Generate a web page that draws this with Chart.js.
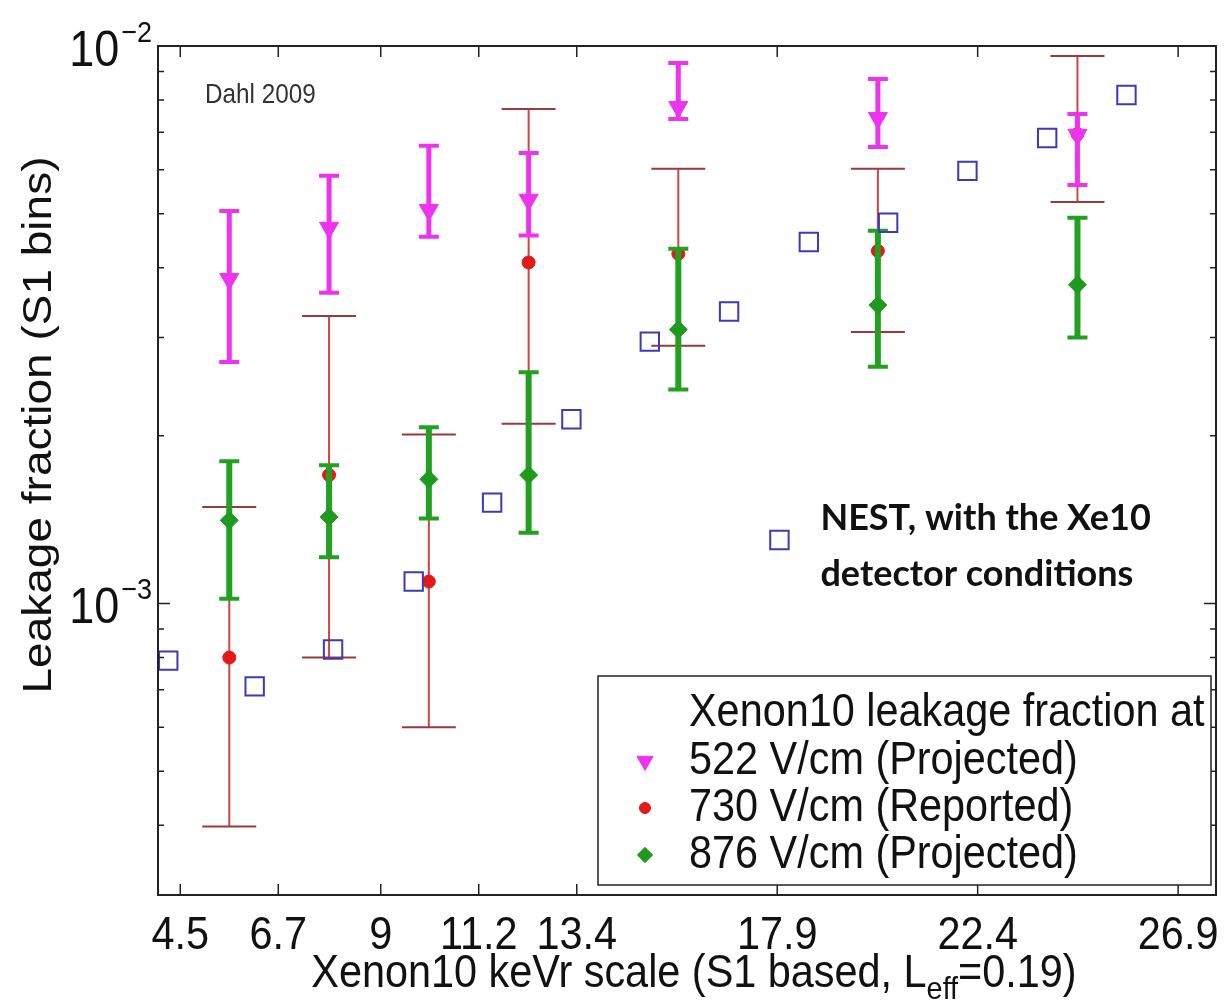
<!DOCTYPE html>
<html>
<head>
<meta charset="utf-8">
<script src="https://cdn.jsdelivr.net/npm/chart.js@4.4.1/dist/chart.umd.min.js"></script>
<style>
  html, body { margin: 0; padding: 0; background: #fff; }
  #wrap { width: 1231px; height: 1006px; position: relative; }
</style>
</head>
<body>
<div id="wrap"><canvas id="grafico"></canvas></div>
<script>
// posições (keVr) dos bins de S1
const binKevr = [5.6, 7.84, 10.08, 12.32, 15.68, 20.16, 24.64];

// 522 V/cm (Projected)
const proj522 = [3.82e-3, 4.72e-3, 5.08e-3, 5.30e-3, 7.77e-3, 7.43e-3, 6.93e-3];
const proj522Lo = [2.71e-3, 3.61e-3, 4.55e-3, 4.57e-3, 7.40e-3, 6.59e-3, 5.63e-3];
const proj522Hi = [5.06e-3, 5.85e-3, 6.62e-3, 6.43e-3, 9.32e-3, 8.73e-3, 7.55e-3];

// 730 V/cm (Reported)
const rep730 = [8.0e-4, 1.70e-3, 1.095e-3, 4.09e-3, 4.24e-3, 4.29e-3, 6.95e-3];
const rep730Lo = [3.98e-4, 8.0e-4, 6.0e-4, 2.10e-3, 2.90e-3, 3.07e-3, 5.25e-3];
const rep730Hi = [1.49e-3, 3.28e-3, 2.01e-3, 7.71e-3, 6.02e-3, 6.02e-3, 9.60e-3];

// 876 V/cm (Projected)
const proj876 = [1.41e-3, 1.43e-3, 1.67e-3, 1.70e-3, 3.10e-3, 3.43e-3, 3.73e-3];
const proj876Lo = [1.02e-3, 1.21e-3, 1.42e-3, 1.34e-3, 2.42e-3, 2.66e-3, 3.00e-3];
const proj876Hi = [1.80e-3, 1.77e-3, 2.07e-3, 2.60e-3, 4.33e-3, 4.66e-3, 4.92e-3];

// NEST
const nestKevr = [4.23, 6.17, 7.93, 9.74, 11.50, 13.28, 15.04, 16.82, 18.61, 20.39, 22.17, 23.96, 25.74];
const nestFrac = [7.9e-4, 7.1e-4, 8.27e-4, 1.095e-3, 1.517e-3, 2.14e-3, 2.95e-3, 3.34e-3, 4.45e-3, 4.82e-3, 5.97e-3, 6.84e-3, 8.17e-3];

// eixos
const xTicks = [4.5, 6.7, 9, 11.2, 13.4, 17.9, 22.4, 26.9];
const yTicks = [3e-4, 4e-4, 5e-4, 6e-4, 7e-4, 8e-4, 9e-4, 1e-3, 2e-3, 3e-3, 4e-3, 5e-3, 6e-3, 7e-3, 8e-3, 9e-3, 1e-2];
const yDecadas = [1e-3, 1e-2];

const legendaTitulo = 'Xenon10 leakage fraction at';
const legendaNomes = ['522 V/cm (Projected)', '730 V/cm (Reported)', '876 V/cm (Projected)'];

const FONTE = '"Liberation Sans", Arial, Helvetica, sans-serif';
const ESTREITO = 0.9; // o texto original é levemente comprimido na horizontal

function pontos(xs, ys) {
  return xs.map((v, i) => ({ x: v, y: ys[i] }));
}

// escreve texto comprimido na horizontal
function texto(ctx, str, x, y, tam, align, base) {
  ctx.save();
  ctx.font = tam + 'px ' + FONTE;
  ctx.textAlign = align || 'left';
  ctx.textBaseline = base || 'middle';
  ctx.translate(x, y);
  ctx.scale(ESTREITO, 1);
  ctx.fillText(str, 0, 0);
  ctx.restore();
}

function largura(ctx, str, tam) {
  ctx.save();
  ctx.font = tam + 'px ' + FONTE;
  const w = ctx.measureText(str).width * ESTREITO;
  ctx.restore();
  return w;
}

// barras de erro desenhadas antes dos marcadores de cada série
const barrasErro = {
  id: 'barrasErro',
  beforeDatasetDraw(chart, args) {
    const ds = chart.data.datasets[args.index];
    if (!ds.errLo) return;
    const { ctx, scales: { x, y } } = chart;
    ctx.save();
    ds.data.forEach((p, i) => {
      const px = x.getPixelForValue(p.x);
      const yLo = y.getPixelForValue(ds.errLo[i]);
      const yHi = y.getPixelForValue(ds.errHi[i]);
      ctx.strokeStyle = ds.errCor;
      ctx.lineWidth = ds.errLargura;
      ctx.beginPath();
      ctx.moveTo(px, yLo);
      ctx.lineTo(px, yHi);
      ctx.stroke();
      ctx.strokeStyle = ds.capCor || ds.errCor;
      ctx.lineWidth = ds.capLargura;
      ctx.beginPath();
      ctx.moveTo(px - ds.capMeio, yLo); ctx.lineTo(px + ds.capMeio, yLo);
      ctx.moveTo(px - ds.capMeio, yHi); ctx.lineTo(px + ds.capMeio, yHi);
      ctx.stroke();
    });
    ctx.restore();
  }
};

function marcador(ctx, ds, x, y, escala) {
  ctx.save();
  ctx.fillStyle = ds.pointBackgroundColor;
  ctx.strokeStyle = ds.pointBorderColor;
  ctx.lineWidth = ds.pointBorderWidth;
  Chart.helpers.drawPoint(ctx, {
    pointStyle: ds.pointStyle,
    radius: ds.pointRadius * (escala || 1),
    rotation: ds.pointRotation || 0,
    borderWidth: ds.pointBorderWidth
  }, x, y);
  ctx.restore();
}

// moldura, ticks para dentro, rótulos, títulos, legenda e anotações
const moldura = {
  id: 'moldura',
  afterDraw(chart) {
    const { ctx, chartArea: a, scales: { x, y } } = chart;
    const dss = chart.data.datasets;
    ctx.save();

    ctx.strokeStyle = '#222';
    ctx.lineWidth = 1.5;
    ctx.beginPath();
    xTicks.forEach(v => {
      const px = x.getPixelForValue(v);
      ctx.moveTo(px, a.bottom); ctx.lineTo(px, a.bottom - 11);
      ctx.moveTo(px, a.top); ctx.lineTo(px, a.top + 11);
    });
    yTicks.forEach(v => {
      const py = y.getPixelForValue(v);
      const len = yDecadas.includes(v) ? 12 : 6;
      ctx.moveTo(a.left, py); ctx.lineTo(a.left + len, py);
      ctx.moveTo(a.right, py); ctx.lineTo(a.right - len, py);
    });
    ctx.stroke();

    // rótulos do eixo x
    ctx.fillStyle = '#111';
    xTicks.forEach(v => texto(ctx, String(v), x.getPixelForValue(v), a.bottom + 41, 46, 'center'));

    // rótulos do eixo y: 10^-n
    yDecadas.forEach(v => {
      const py = y.getPixelForValue(v);
      const exp = '\u2212' + Math.round(-Math.log10(v));
      texto(ctx, exp, a.left - 6, py - 4, 30, 'right', 'alphabetic');
      const wExp = largura(ctx, exp, 30);
      texto(ctx, '10', a.left - 8 - wExp, py + 20, 50, 'right', 'alphabetic');
    });

    // título y (rotacionado: a compressão horizontal vira altura das letras)
    ctx.save();
    ctx.translate(40, 425);
    ctx.rotate(-Math.PI / 2);
    ctx.scale(1, ESTREITO);
    ctx.font = '46px ' + FONTE;
    ctx.textAlign = 'center';
    ctx.textBaseline = 'middle';
    ctx.fillText('Leakage fraction (S1 bins)', 0, 0);
    ctx.restore();

    // título x com subscrito
    const parte1 = 'Xenon10 keVr scale (S1 based, L';
    const sub = 'eff';
    const parte2 = '=0.19)';
    const w1 = largura(ctx, parte1, 46);
    const w2 = largura(ctx, sub, 32);
    const w3 = largura(ctx, parte2, 46);
    const cx = 694 - (w1 + w2 + w3) / 2;
    texto(ctx, parte1, cx, 987, 46, 'left', 'alphabetic');
    texto(ctx, sub, cx + w1, 999, 32, 'left', 'alphabetic');
    texto(ctx, parte2, cx + w1 + w2, 987, 46, 'left', 'alphabetic');

    // anotação Dahl 2009
    ctx.fillStyle = '#333';
    texto(ctx, 'Dahl 2009', a.left + 47, a.top + 50, 27, 'left');

    // anotação NEST
    const nx = x.getPixelForValue(17.95);
    const ny = y.getPixelForValue(1.3e-3);
    marcador(ctx, dss[3], nx, ny);
    ctx.fillStyle = '#111';
    ctx.font = 'bold 36px Lato, "Open Sans", sans-serif';
    ctx.textAlign = 'left';
    ctx.textBaseline = 'middle';
    ctx.fillText('NEST, with the Xe10', nx + 41, ny - 22);
    ctx.fillText('detector conditions', nx + 41, ny + 34);

    // legenda
    const lx = a.right - 618, ly = a.bottom - 219, lw = 613, lh = 209;
    ctx.fillStyle = '#fff';
    ctx.fillRect(lx, ly, lw, lh);
    ctx.strokeStyle = '#222';
    ctx.lineWidth = 1.5;
    ctx.strokeRect(lx, ly, lw, lh);
    ctx.fillStyle = '#111';
    texto(ctx, legendaTitulo, lx + 91, ly + 37, 46);
    legendaNomes.forEach((nome, i) => {
      const yy = ly + 85 + i * 47;
      ctx.fillStyle = '#111';
      texto(ctx, nome, lx + 91, yy, 46);
      marcador(ctx, dss[i], lx + 47, yy, 0.85);
    });

    // moldura do gráfico
    ctx.strokeStyle = '#222';
    ctx.lineWidth = 2;
    ctx.strokeRect(a.left, a.top, a.right - a.left, a.bottom - a.top);
    ctx.restore();
  }
};

const ctx = document.getElementById('grafico').getContext('2d');

new Chart(ctx, {
  type: 'scatter',
  data: {
    datasets: [
      {
        label: legendaNomes[0],
        data: pontos(binKevr, proj522),
        errLo: proj522Lo, errHi: proj522Hi,
        errCor: '#ee33ee', errLargura: 5, capLargura: 4, capMeio: 10,
        pointStyle: 'triangle', pointRotation: 180, pointRadius: 11,
        pointBackgroundColor: '#ee33ee', pointBorderColor: '#ee33ee', pointBorderWidth: 1,
        order: 2
      },
      {
        label: legendaNomes[1],
        data: pontos(binKevr, rep730),
        errLo: rep730Lo, errHi: rep730Hi,
        errCor: '#d04444', capCor: '#9a3a3a', errLargura: 2, capLargura: 2, capMeio: 27,
        pointStyle: 'circle', pointRadius: 6.5,
        pointBackgroundColor: '#e41a1a', pointBorderColor: '#e41a1a', pointBorderWidth: 1,
        order: 4
      },
      {
        label: legendaNomes[2],
        data: pontos(binKevr, proj876),
        errLo: proj876Lo, errHi: proj876Hi,
        errCor: '#22a022', errLargura: 6, capLargura: 4, capMeio: 10,
        pointStyle: 'rectRot', pointRadius: 9,
        pointBackgroundColor: '#1f9a1f', pointBorderColor: '#1f9a1f', pointBorderWidth: 1,
        order: 3
      },
      {
        label: 'NEST',
        data: pontos(nestKevr, nestFrac),
        pointStyle: 'rect', pointRadius: 13,
        pointBackgroundColor: 'rgba(0,0,0,0)', pointBorderColor: '#3b3bb8', pointBorderWidth: 2,
        order: 1
      }
    ]
  },
  options: {
    responsive: true,
    maintainAspectRatio: false,
    animation: false,
    events: [],
    layout: { padding: { top: 46, right: 8, left: 0, bottom: 0 } },
    plugins: {
      legend: { display: false },
      tooltip: { enabled: false }
    },
    scales: {
      x: {
        type: 'linear', min: 4.0, max: 27.75,
        ticks: { display: false },
        grid: { display: false },
        border: { display: false },
        afterFit: s => { s.height = 111; }
      },
      y: {
        type: 'logarithmic', min: 3e-4, max: 1e-2,
        ticks: { display: false },
        grid: { display: false },
        border: { display: false },
        afterFit: s => { s.width = 158; }
      }
    }
  },
  plugins: [barrasErro, moldura]
});
</script>
</body>
</html>
